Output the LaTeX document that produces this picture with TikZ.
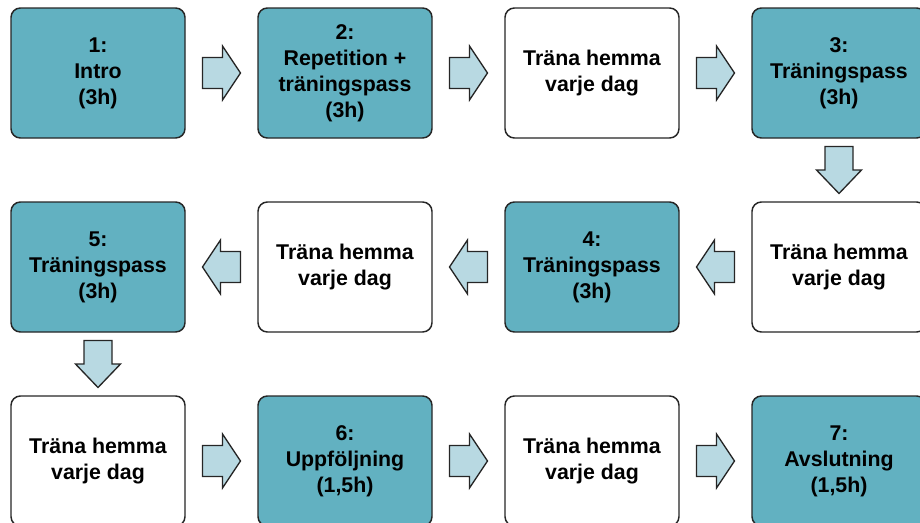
\documentclass[tikz,border=0pt]{standalone}
\usepackage{fontspec}
\setmainfont{Liberation Sans}
\usetikzlibrary{calc}
\definecolor{PassTeal}{HTML}{62B1C1}
\definecolor{ArrowBlue}{HTML}{B8D9E2}
\definecolor{EdgeGray}{HTML}{262626}

\tikzset{
  box/.style={draw=EdgeGray, line width=1.1pt, rounded corners=7pt,
    minimum width=130.5pt, minimum height=97.5pt, align=center,
    font=\fontsize{16}{19.5}\selectfont\bfseries},
  pass/.style={box, fill=PassTeal},
  home/.style={box, fill=white},
  blockline/.style={draw=EdgeGray, line width=1pt, fill=ArrowBlue, line join=miter},
  harrow/.pic={\draw[blockline] (-19,-15.5) -- (1,-15.5) -- (1,-27) -- (19,0)
    -- (1,27) -- (1,15.5) -- (-19,15.5) -- cycle;},
  varrow/.pic={\draw[blockline] (-14,23.5) -- (-14,0) -- (-22.5,0) -- (0,-23.5)
    -- (22.5,0) -- (14,0) -- (14,23.5) -- cycle;}
}

\begin{document}
\begin{tikzpicture}[x=0.75pt, y=0.75pt]
  \useasboundingbox (0,0) rectangle (920,-522);
  \clip (0,0) rectangle (920,-522);
  % first row
  \node[pass] (intro) at (98,-73) {1:\\Intro\\(3h)};
  \node[pass] (rep)   at (345,-73) {2:\\Repetition +\\träningspass\\(3h)};
  \node[home] (home1) at (592,-73) {Träna hemma\\varje dag};
  \node[pass] (pass3) at (839,-73) {3:\\Träningspass\\(3h)};
  % second row, right to left
  \node[home] (home2) at (839,-267) {Träna hemma\\varje dag};
  \node[pass] (pass4) at (592,-267) {4:\\Träningspass\\(3h)};
  \node[home] (home3) at (345,-267) {Träna hemma\\varje dag};
  \node[pass] (pass5) at (98,-267) {5:\\Träningspass\\(3h)};
  % third row
  \node[home] (home4)  at (98,-461) {Träna hemma\\varje dag};
  \node[pass] (follow) at (345,-461) {6:\\Uppföljning\\(1,5h)};
  \node[home] (home5)  at (592,-461) {Träna hemma\\varje dag};
  \node[pass] (finish) at (839,-461) {7:\\Avslutning\\(1,5h)};
  % block arrows
  \pic at ($(intro.east)!0.5!(rep.west)$) {harrow};
  \pic at ($(rep.east)!0.5!(home1.west)$) {harrow};
  \pic at ($(home1.east)!0.5!(pass3.west)$) {harrow};
  \pic at ($(pass3.south)!0.5!(home2.north)$) {varrow};
  \pic[rotate=180] at ($(home2.west)!0.5!(pass4.east)$) {harrow};
  \pic[rotate=180] at ($(pass4.west)!0.5!(home3.east)$) {harrow};
  \pic[rotate=180] at ($(home3.west)!0.5!(pass5.east)$) {harrow};
  \pic at ($(pass5.south)!0.5!(home4.north)$) {varrow};
  \pic at ($(home4.east)!0.5!(follow.west)$) {harrow};
  \pic at ($(follow.east)!0.5!(home5.west)$) {harrow};
  \pic at ($(home5.east)!0.5!(finish.west)$) {harrow};
\end{tikzpicture}
\end{document}
